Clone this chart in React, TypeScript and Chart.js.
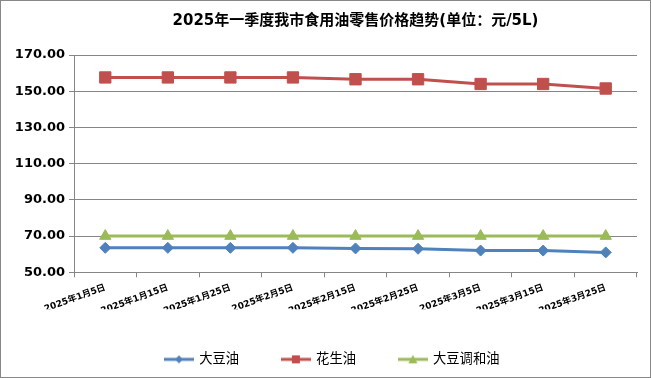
import React, { useEffect, useRef } from "react";
import { Chart, registerables } from "chart.js";

Chart.register(...registerables);

const categories = [
  "2025年1月5日",
  "2025年1月15日",
  "2025年1月25日",
  "2025年2月5日",
  "2025年2月15日",
  "2025年2月25日",
  "2025年3月5日",
  "2025年3月15日",
  "2025年3月25日",
];
const soybeanOil = [63.5, 63.5, 63.5, 63.5, 63.2, 63.0, 62.0, 62.0, 61.0];
const peanutOil = [157.6, 157.6, 157.6, 157.6, 156.6, 156.6, 154.0, 154.0, 151.5];
const blendOil = [70, 70, 70, 70, 70, 70, 70, 70, 70];
const seriesNames = ["大豆油", "花生油", "大豆调和油"];
const colors = ["#4F81BD", "#C0504D", "#9BBB59"];
const pointStyles = ["rectRot", "rect", "triangle"];
const pointRadii = [5.5, 8, 6.5];
const titleText = "2025年一季度我市食用油零售价格趋势(单位：元/5L)";

const FONT = "'DejaVu Sans', 'Noto Sans CJK SC', sans-serif";

function legendImage(color: string, style: string): HTMLCanvasElement {
  const c = document.createElement("canvas");
  c.width = 30;
  c.height = 12;
  const ctx = c.getContext("2d")!;
  ctx.strokeStyle = color;
  ctx.lineWidth = 3;
  ctx.beginPath();
  ctx.moveTo(0, 6);
  ctx.lineTo(30, 6);
  ctx.stroke();
  ctx.fillStyle = color;
  ctx.beginPath();
  if (style === "rectRot") {
    ctx.moveTo(15, 2);
    ctx.lineTo(19, 6);
    ctx.lineTo(15, 10);
    ctx.lineTo(11, 6);
  } else if (style === "rect") {
    ctx.rect(11, 2, 8, 8);
  } else {
    ctx.moveTo(15, 1.5);
    ctx.lineTo(19.5, 10);
    ctx.lineTo(10.5, 10);
  }
  ctx.closePath();
  ctx.fill();
  return c;
}

const legendShift = {
  id: "legendShift",
  afterLayout(chart: any) {
    const lg = chart.legend;
    if (lg) {
      lg.left -= 23;
      lg.right -= 23;
    }
  },
};

export default function App() {
  const ref = useRef<HTMLCanvasElement>(null);
  useEffect(() => {
    document.body.style.margin = "0";
    const images = colors.map((c, i) => legendImage(c, pointStyles[i]));
    const dataArr = [soybeanOil, peanutOil, blendOil];
    const chart = new Chart(ref.current!, {
      type: "line",
      data: {
        labels: categories,
        datasets: dataArr.map((d, i) => ({
          label: seriesNames[i],
          data: d,
          borderColor: colors[i],
          backgroundColor: colors[i],
          borderWidth: 3,
          pointStyle: pointStyles[i] as any,
          pointRadius: pointRadii[i],
          pointBorderWidth: 1,
          pointBorderColor: colors[i],
          pointBackgroundColor: colors[i],
          tension: 0,
          fill: false,
        })),
      },
      plugins: [legendShift],
      options: {
        animation: false,
        responsive: false,
        maintainAspectRatio: false,
        layout: { padding: { left: 0, right: 13, top: 0, bottom: 1 } },
        plugins: {
          tooltip: { enabled: false },
          title: {
            display: true,
            fullSize: false,
            text: titleText,
            color: "#000",
            font: { family: FONT, size: 15, weight: "bold" },
            padding: { top: 11, bottom: 25 },
          },
          legend: {
            position: "bottom",
            fullSize: false,
            labels: {
              color: "#000",
              font: { family: FONT, size: 13.3 },
              usePointStyle: true,
              pointStyleWidth: 27,
              boxHeight: 12,
              padding: 43.4,
              generateLabels: (ch: any) =>
                ch.data.datasets.map((ds: any, i: number) => ({
                  text: ds.label,
                  pointStyle: images[i],
                  fillStyle: colors[i],
                  strokeStyle: colors[i],
                  lineWidth: 0,
                  hidden: false,
                  datasetIndex: i,
                  fontColor: "#000",
                })),
            },
          },
        },
        scales: {
          x: {
            type: "category",
            offset: true,
            afterFit: (s: any) => {
              s.height = 37;
            },
            grid: {
              display: true,
              offset: true,
              drawOnChartArea: false,
              drawTicks: true,
              tickLength: 5,
              color: "#868686",
            },
            border: { display: true, color: "#868686", width: 1 },
            ticks: {
              color: "#000",
              font: { family: FONT, size: 9, weight: "bold" },
              minRotation: 20,
              maxRotation: 20,
              autoSkip: false,
              padding: 5,
            },
          },
          y: {
            min: 50,
            max: 170,
            afterFit: (s: any) => {
              s.width = 73;
            },
            grid: {
              color: "#868686",
              drawTicks: true,
              tickLength: 5,
            },
            border: { display: true, color: "#868686", width: 1 },
            ticks: {
              stepSize: 20,
              color: "#000",
              font: { family: FONT, size: 13, weight: "bold" },
              padding: 4,
              callback: (v: any) => Number(v).toFixed(2),
            },
          },
        },
      },
    });
    return () => chart.destroy();
  }, []);
  return (
    <div
      style={{
        width: 649,
        height: 376,
        border: "1px solid #888",
        background: "#fff",
      }}
    >
      <canvas ref={ref} width={649} height={376} style={{ display: "block" }} />
    </div>
  );
}
